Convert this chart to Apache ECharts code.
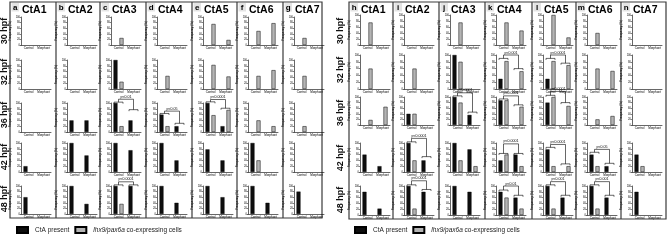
<!DOCTYPE html>
<html>
<head>
<meta charset="utf-8">
<script src="https://cdn.jsdelivr.net/npm/echarts@6/dist/echarts.min.js"></script>
<style>
  html, body { margin: 0; padding: 0; background: #fff; }
  #main { width: 667px; height: 240px; }
</style>
</head>
<body>
<div id="main"></div>
<script>
const stages = ['30 hpf', '32 hpf', '36 hpf', '42 hpf', '48 hpf'];
const groups = ['Control', 'Morphant'];
const cellTypes = ['CtA present', 'lhx9/pax6a co-expressing cells'];
const ctaNames = ['CtA1', 'CtA2', 'CtA3', 'CtA4', 'CtA5', 'CtA6', 'CtA7'];
const leftLetters = ['a', 'b', 'c', 'd', 'e', 'f', 'g'];
const rightLetters = ['h', 'i', 'j', 'k', 'l', 'm', 'n'];

// frequency (%) per stage: [black grp1, grey grp1, black grp2, grey grp2]
const leftCtA1 = [[0,0,0,0],[0,0,0,0],[0,0,0,0],[20,0,0,0],[60,0,0,0]];
const leftCtA2 = [[0,0,0,0],[0,0,0,0],[40,0,40,0],[100,0,57,0],[100,0,36,0]];
const leftCtA3 = [[0,25,0,0],[100,25,0,0],[100,20,40,0],[100,0,75,0],[100,36,100,0]];
const leftCtA4 = [[0,0,0,0],[0,45,0,0],[60,20,20,0],[100,0,40,0],[100,0,40,0]];
const leftCtA5 = [[0,75,0,18],[0,83,0,43],[100,58,20,76],[78,0,40,0],[100,0,60,0]];
const leftCtA6 = [[0,50,0,78],[0,45,0,65],[0,40,0,20],[100,40,0,0],[100,0,40,0]];
const leftCtA7 = [[0,25,0,0],[0,45,0,0],[0,20,0,0],[0,0,0,0],[80,0,0,0]];

const rightCtA1 = [[0,75,0,0],[0,60,0,0],[0,18,0,65],[60,0,20,0],[80,0,22,0]];
const rightCtA2 = [[0,0,0,0],[0,60,0,0],[40,40,0,0],[100,40,40,0],[100,22,80,0]];
const rightCtA3 = [[0,75,0,0],[100,80,0,0],[100,80,36,0],[100,40,78,20],[100,0,80,0]];
const rightCtA4 = [[0,75,0,48],[30,82,0,52],[88,88,0,65],[40,60,60,20],[80,60,60,22]];
const rightCtA5 = [[0,100,0,25],[30,82,0,70],[80,100,0,68],[78,20,0,20],[100,22,60,0]];
const rightCtA6 = [[0,40,0,0],[0,60,0,53],[0,20,0,32],[60,20,20,0],[100,22,60,0]];
const rightCtA7 = [[0,0,0,0],[0,0,0,0],[0,0,0,0],[60,20,0,0],[80,0,0,0]];

// significance brackets: [column, stage, groupA, groupB, top %, capA %, capB %, label]
const leftBrackets = [
  [2, 2, 0, 1, 113, 103, 77, 'p<0.01'],
  [2, 4, 0, 1, 115, 104, 104, 'p<0.0001'],
  [3, 2, 0, 1, 72, 64, 30, 'p<0.05'],
  [4, 2, 0, 1, 112, 104, 82, 'p<0.0001']
];
const rightBrackets = [
  [1, 3, 0, 1, 116, 104, 53, 'p<0.0001'],
  [1, 4, 0, 1, 118, 104, 88, 'p<0.0001'],
  [2, 2, 0, 1, 115, 104, 46, 'p<0.0001'],
  [3, 1, 0, 1, 100, 90, 60, 'p<0.001'],
  [3, 2, 0, 1, 104, 93, 72, 'p<0.0001'],
  [3, 3, 0, 1, 97, 64, 64, 'p<0.0001'],
  [3, 4, 0, 1, 100, 86, 68, 'p<0.01'],
  [4, 1, 0, 1, 100, 90, 76, 'p<0.0001'],
  [4, 2, 0, 1, 120, 106, 80, 'p<0.0001'],
  [4, 3, 0, 1, 95, 85, 28, 'p<0.0001'],
  [4, 4, 0, 1, 115, 104, 68, 'p<0.001'],
  [5, 3, 0, 1, 78, 68, 30, 'p<0.05'],
  [5, 4, 0, 1, 115, 104, 68, 'p<0.001']
];

// layout
const leftCols = [10, 56, 100, 146, 192, 237, 283, 322];
const rightCols = [349, 393, 439, 485, 532, 576, 621, 666];
const leftRows = [[17, 45], [60, 89], [103, 132], [143, 172], [186, 214]];
const rightRows = [[15, 45], [55, 89], [97, 125], [143, 172], [186, 215]];
const leftLabelY = [31, 72, 115, 157, 199];
const rightLabelY = [31, 70, 113, 158, 200];

const chart = echarts.init(document.getElementById('main'));
const grids = [], xAxes = [], yAxes = [], series = [], graphics = [];
const tiny = 3;

const bracketSeries = (gi, b) => ({
  type: 'custom',
  xAxisIndex: gi,
  yAxisIndex: gi,
  silent: true,
  clip: false,
  z: 5,
  data: [[b[2], b[3], b[4], b[5], b[6]]],
  renderItem: (params, api) => {
    const a = api.value(0), c = api.value(1);
    const pA = api.coord([a, api.value(2)]);
    const pB = api.coord([c, api.value(2)]);
    const yA = api.coord([a, api.value(3)])[1];
    const yB = api.coord([c, api.value(4)])[1];
    const half = api.size([1, 0])[0] * 0.3;
    const st = { stroke: '#000', lineWidth: 0.6, fill: null };
    const cap = (x, y) => ({ type: 'polyline', shape: { points: [[x - half, y + 1.5], [x - half, y], [x + half, y], [x + half, y + 1.5]] }, style: st });
    return {
      type: 'group',
      children: [
        { type: 'polyline', shape: { points: [[pA[0], yA], [pA[0], pA[1]], [pB[0], pB[1]], [pB[0], yB]] }, style: st },
        cap(pA[0], yA),
        cap(pB[0], yB),
        { type: 'text', style: { text: b[7], x: (pA[0] + pB[0]) / 2, y: pA[1] - 0.4, align: 'center', verticalAlign: 'bottom', font: '3.6px Arial', fill: '#000' } }
      ]
    };
  }
});

function addBlock(cols, rows, labelY, labelX, blockData, letters, brackets) {
  const stroke = '#3a3a3a';
  graphics.push({ type: 'rect', shape: { x: cols[0], y: 2, width: cols[7] - cols[0], height: rows[4][1] + 4 - 2 }, style: { fill: null, stroke: stroke, lineWidth: 1.2 } });
  for (let c = 1; c < 7; c++) {
    graphics.push({ type: 'line', shape: { x1: cols[c], y1: 2, x2: cols[c], y2: rows[4][1] + 4 }, style: { stroke: stroke, lineWidth: 1.2 } });
  }
  stages.forEach((s, r) => {
    graphics.push({ type: 'text', x: labelX, y: labelY[r], rotation: Math.PI / 2, style: { text: s, font: 'bold 9px "Liberation Sans", Arial', fill: '#111', align: 'center', verticalAlign: 'middle' } });
  });
  blockData.forEach((colVals, c) => {
    const x0 = cols[c];
    graphics.push({ type: 'rect', shape: { x: x0 + 1.5, y: 3, width: 7.5, height: 8.5 }, style: { fill: '#e4e4e4' } });
    graphics.push({ type: 'text', x: x0 + 5.2, y: 7.5, style: { text: letters[c], font: 'bold 8px "Liberation Sans", Arial', fill: '#000', align: 'center', verticalAlign: 'middle' } });
    graphics.push({ type: 'text', x: x0 + 12, y: 10.5, style: { text: ctaNames[c], font: 'bold 10.5px "Liberation Sans", Arial', fill: '#000', align: 'left', verticalAlign: 'middle' } });
    colVals.forEach((vals, r) => {
      const gi = grids.length;
      grids.push({ left: x0 + 11, top: rows[r][0], width: 30, height: rows[r][1] - rows[r][0] });
      xAxes.push({
        gridIndex: gi, type: 'category', data: groups,
        axisLine: { lineStyle: { color: '#000', width: 0.6 } },
        axisTick: { alignWithLabel: true, length: 1.2, lineStyle: { width: 0.5 } },
        axisLabel: { fontSize: tiny, margin: 1.5, color: '#000', interval: 0 }
      });
      yAxes.push({
        gridIndex: gi, type: 'value', min: 0, max: 100, interval: 20,
        name: 'Frequency (%)', nameLocation: 'middle', nameGap: 6.5,
        nameTextStyle: { fontSize: tiny, color: '#000' },
        axisLine: { show: true, lineStyle: { color: '#000', width: 0.6 } },
        axisTick: { show: true, length: 1.2, lineStyle: { width: 0.5 } },
        axisLabel: { fontSize: 2.6, margin: 1, color: '#000' },
        splitLine: { show: false }
      });
      const nz = v => (v === 0 ? null : v);
      series.push({
        type: 'bar', name: cellTypes[0], xAxisIndex: gi, yAxisIndex: gi,
        barWidth: 4, barGap: '50%', silent: true,
        itemStyle: { color: '#0e0e0e', borderColor: '#000', borderWidth: 0.4 },
        data: [vals[0], vals[2]].map(nz)
      });
      series.push({
        type: 'bar', name: cellTypes[1], xAxisIndex: gi, yAxisIndex: gi,
        barWidth: 4, barGap: '50%', silent: true,
        itemStyle: { color: '#b4b4b4', borderColor: '#000', borderWidth: 0.5 },
        data: [vals[1], vals[3]].map(nz)
      });
    });
  });
  brackets.forEach(b => {
    const gi = grids.length - 35 + b[0] * 5 + b[1];
    series.push(bracketSeries(gi, b));
  });
}

addBlock(leftCols, leftRows, leftLabelY, 5, [leftCtA1, leftCtA2, leftCtA3, leftCtA4, leftCtA5, leftCtA6, leftCtA7], leftLetters, leftBrackets);
addBlock(rightCols, rightRows, rightLabelY, 341, [rightCtA1, rightCtA2, rightCtA3, rightCtA4, rightCtA5, rightCtA6, rightCtA7], rightLetters, rightBrackets);

const legendBase = {
  orient: 'vertical', top: 221, itemWidth: 11, itemHeight: 6, itemGap: 5,
  icon: 'rect', selectedMode: false,
  data: cellTypes,
  formatter: n => (n === cellTypes[1] ? '{i|lhx9/pax6a} co-expressing cells' : n),
  textStyle: { fontSize: 6.5, color: '#222', padding: [0, 0, 0, 2], rich: { i: { fontStyle: 'italic', fontSize: 6.5, color: '#222' } } }
};

chart.setOption({
  animation: false,
  backgroundColor: '#fff',
  legend: [
    Object.assign({}, legendBase, { left: 11 }),
    Object.assign({}, legendBase, { left: 349 })
  ],
  grid: grids,
  xAxis: xAxes,
  yAxis: yAxes,
  series: series,
  graphic: graphics
});
</script>
</body>
</html>
